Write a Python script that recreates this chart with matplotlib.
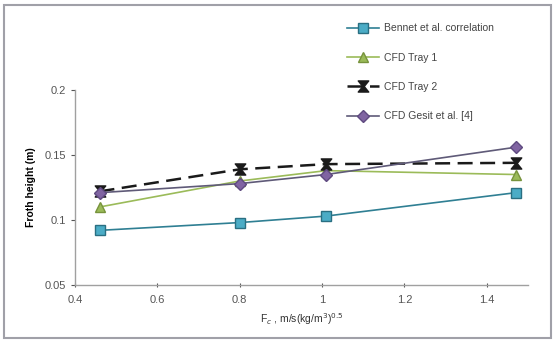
import matplotlib.pyplot as plt
from matplotlib.patches import Rectangle

# data
fc = [0.46, 0.80, 1.01, 1.47]
bennett = [0.092, 0.098, 0.103, 0.121]
tray1 = [0.110, 0.130, 0.138, 0.135]
tray2 = [0.122, 0.139, 0.143, 0.144]
gesit = [0.121, 0.128, 0.135, 0.156]

x_ticks = [0.4, 0.6, 0.8, 1.0, 1.2, 1.4]
x_labels = ['0.4', '0.6', '0.8', '1', '1.2', '1.4']
y_ticks = [0.05, 0.1, 0.15, 0.2]
y_labels = ['0.05', '0.1', '0.15', '0.2']

plt.rcParams['font.family'] = ['Liberation Sans', 'DejaVu Sans']

fig = plt.figure(figsize=(5.54, 3.4), dpi=100)
fig.patches.append(Rectangle((0.008, 0.006), 0.986, 0.978, transform=fig.transFigure,
                             fill=False, edgecolor='#a0a0a8', linewidth=1.5))
ax = fig.add_axes([0.135, 0.162, 0.818, 0.573])

ax.plot(fc, bennett, color='#2f7f93', marker='s', markersize=7, markerfacecolor='#4bacc6',
        markeredgecolor='#2a6f82', linewidth=1.2, label='Bennet et al. correlation')
ax.plot(fc, tray1, color='#9bbb59', marker='^', markersize=7, markerfacecolor='#9bbb59',
        markeredgecolor='#77933c', linewidth=1.2, label='CFD Tray 1')
ax.plot(fc, tray2, color='#1a1a1a', marker='$\u29D7$', markersize=8, linestyle=(0, (6, 3)),
        linewidth=1.8, label='CFD Tray 2')
ax.plot(fc, gesit, color='#5f5a78', marker='D', markersize=6, markerfacecolor='#8064a2',
        markeredgecolor='#5f4a80', linewidth=1.2, label='CFD Gesit et al. [4]')

ax.set_xlim(0.4, 1.5)
ax.set_ylim(0.05, 0.2)
ax.set_xticks(x_ticks)
ax.set_xticklabels(x_labels)
ax.set_yticks(y_ticks)
ax.set_yticklabels(y_labels)
ax.tick_params(labelsize=8, colors='#555555', length=3, width=0.8)
ax.tick_params(axis='x', direction='inout', pad=6)
ax.spines['top'].set_visible(False)
ax.spines['right'].set_visible(False)
for s in ['left', 'bottom']:
    ax.spines[s].set_color('#a0a0a0')
    ax.spines[s].set_linewidth(1)

ax.set_ylabel('Froth height (m)', fontsize=7.5, fontweight='bold', labelpad=6)
ax.set_xlabel('F$_c$ , m/s(kg/m$^3$)$^{0.5}$', fontsize=7.5, color='#333333', labelpad=4)

fig.legend(*ax.get_legend_handles_labels(), loc='upper left',
           bbox_to_anchor=(338 / 554, 1 - 14 / 340), frameon=False, fontsize=7.5,
           labelspacing=1.85, handlelength=3, handletextpad=0.5, labelcolor='#444444')

fig.savefig('out.png', dpi=100)
